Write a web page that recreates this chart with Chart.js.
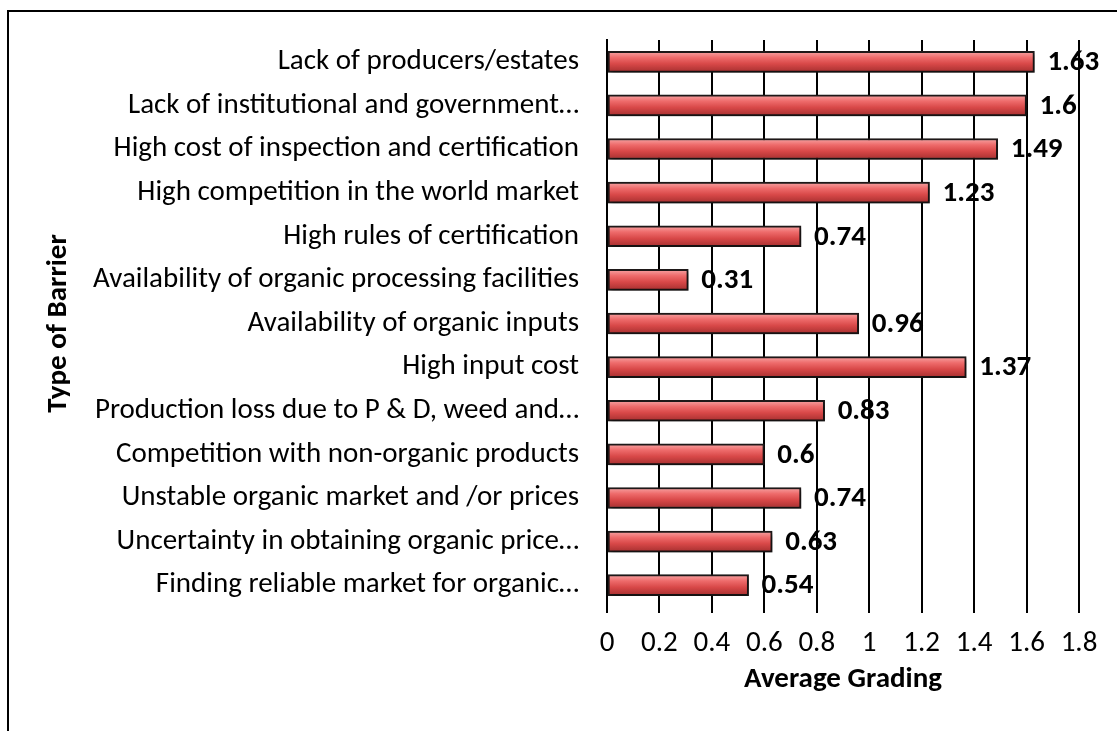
<!DOCTYPE html>
<html>
<head>
<meta charset="utf-8">
<script src="https://cdn.jsdelivr.net/npm/chart.js@4/dist/chart.umd.min.js"></script>
<style>
html,body{margin:0;padding:0;background:#fff;}
#wrap{width:1117px;height:731px;position:relative;}
</style>
</head>
<body>
<div id="wrap"><canvas id="c" width="1117" height="731"></canvas></div>
<script>
const categories = [
  "Lack of producers/estates",
  "Lack of institutional and government\u2026",
  "High cost of inspection and certification",
  "High competition in the world market",
  "High rules of certification",
  "Availability of organic processing facilities",
  "Availability of organic inputs",
  "High input cost",
  "Production loss due to P & D, weed and\u2026",
  "Competition with non-organic products",
  "Unstable organic market and /or prices",
  "Uncertainty in obtaining organic price\u2026",
  "Finding reliable market for organic\u2026"
];
const averageGrading = [1.63, 1.6, 1.49, 1.23, 0.74, 0.31, 0.96, 1.37, 0.83, 0.6, 0.74, 0.63, 0.54];
const xTickLabels = ["0", "0.2", "0.4", "0.6", "0.8", "1", "1.2", "1.4", "1.6", "1.8"];
const xAxisTitle = "Average Grading";
const yAxisTitle = "Type of Barrier";

const FONT = "Carlito, Lato, 'Open Sans', sans-serif";
const FS = 29;
const BAR_T = 21;

function barGradient(context) {
  const chart = context.chart;
  const ys = chart.scales && chart.scales.y;
  if (!ys || context.dataIndex === undefined) return '#d94f4f';
  const yc = ys.getPixelForValue(context.dataIndex);
  if (!isFinite(yc)) return '#d94f4f';
  const g = chart.ctx.createLinearGradient(0, yc - BAR_T / 2, 0, yc + BAR_T / 2);
  g.addColorStop(0, '#f7a6a6');
  g.addColorStop(0.3, '#ee6b6b');
  g.addColorStop(0.6, '#d84848');
  g.addColorStop(1, '#a52f2f');
  return g;
}

const framePlugin = {
  id: 'frame',
  beforeDraw(chart) {
    const ctx = chart.ctx;
    ctx.save();
    ctx.fillStyle = '#fff';
    ctx.fillRect(0, 0, chart.width, chart.height);
    ctx.strokeStyle = '#000';
    ctx.lineWidth = 2;
    ctx.strokeRect(8, 11, 1400, 1000);
    ctx.restore();
  }
};

const shadowPlugin = {
  id: 'barShadow',
  beforeDatasetDraw(chart) {
    const ctx = chart.ctx;
    ctx.save();
    ctx.shadowColor = 'rgba(0,0,0,0.35)';
    ctx.shadowOffsetX = 2;
    ctx.shadowOffsetY = 3;
    ctx.shadowBlur = 4;
  },
  afterDatasetDraw(chart) {
    chart.ctx.restore();
  }
};

const labelPlugin = {
  id: 'valueLabels',
  afterDatasetsDraw(chart) {
    const ctx = chart.ctx;
    const meta = chart.getDatasetMeta(0);
    ctx.save();
    ctx.font = "bold " + FS + "px " + FONT;
    ctx.fillStyle = '#000';
    ctx.textAlign = 'left';
    ctx.textBaseline = 'middle';
    meta.data.forEach((el, i) => {
      ctx.fillText(String(averageGrading[i]), el.x + 13, el.y + 1);
    });
    ctx.restore();
  }
};

const chart = new Chart(document.getElementById('c'), {
  type: 'bar',
  data: {
    labels: categories,
    datasets: [{
      data: averageGrading,
      backgroundColor: barGradient,
      borderColor: '#1e1818',
      borderWidth: 2,
      borderSkipped: false,
      barThickness: BAR_T
    }]
  },
  plugins: [framePlugin, shadowPlugin, labelPlugin],
  options: {
    indexAxis: 'y',
    responsive: false,
    animation: false,
    devicePixelRatio: 1,
    layout: { padding: { top: 40, right: 38, left: 40, bottom: 0 } },
    plugins: { legend: { display: false }, tooltip: { enabled: false } },
    scales: {
      x: {
        min: 0, max: 1.8,
        ticks: {
          stepSize: 0.2,
          color: '#000',
          font: { family: FONT, size: FS },
          padding: 13,
          maxRotation: 0,
          autoSkip: false,
          callback: (v, i) => xTickLabels[i]
        },
        grid: { color: '#000', lineWidth: 2, tickLength: 6, drawTicks: true },
        border: { display: false },
        title: {
          display: true, text: xAxisTitle, color: '#000',
          font: { family: FONT, size: FS, weight: 'bold' },
          padding: { top: 0, bottom: 34 }
        },
        afterFit(s) { s.height = 124; s.paddingLeft = 0; s.paddingRight = 0; }
      },
      y: {
        ticks: {
          color: '#000',
          font: { family: FONT, size: FS },
          padding: 28,
          autoSkip: false
        },
        grid: { display: false, drawTicks: false },
        border: { display: true, color: '#000', width: 2 },
        title: {
          display: true, text: yAxisTitle, color: '#000',
          font: { family: FONT, size: FS, weight: 'bold' },
          padding: { top: 1, bottom: 0 }
        },
        afterFit(s) { s.width = 567; s.paddingTop = 0; s.paddingBottom = 0; }
      }
    }
  }
});
chart.update();
</script>
</body>
</html>
